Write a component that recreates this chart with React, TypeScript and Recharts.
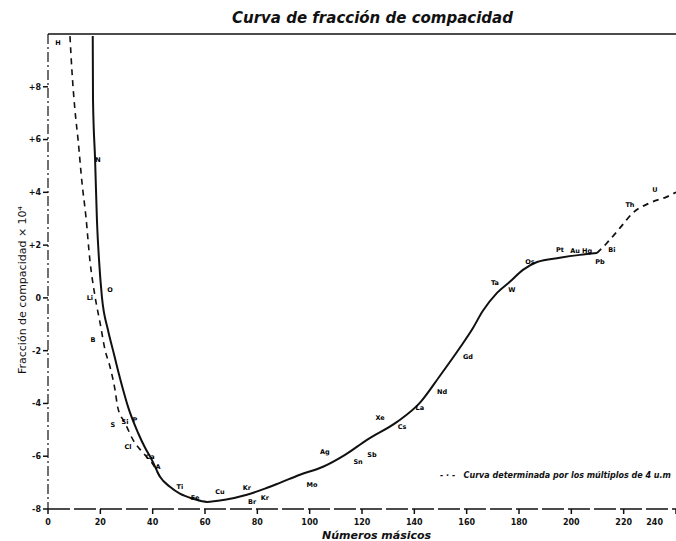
import React from "react";
import { ComposedChart, Line, Scatter, XAxis, YAxis } from "recharts";

// curva continua
const solidMass = [17.1, 17.2, 18.0, 18.7, 19.5, 20.6, 22.9, 24.8, 26.7, 28.7, 30.6, 34.4, 37.1, 39.7, 42.8, 46.6, 50.4, 55.4, 60.8, 67.6, 76.0, 82.9, 88.6, 96.3, 105.1, 113.5, 121.9, 133.4, 142.1, 149.8, 157.4, 162.0, 166.2, 171.6, 176.5, 181.5, 186.9, 195.6, 203.3, 209.8];
const solidValue = [9.92, 7.5, 5.23, 2.95, 1.44, 0.04, -1.21, -1.97, -2.73, -3.48, -4.13, -5.11, -5.68, -6.14, -6.78, -7.16, -7.42, -7.61, -7.73, -7.65, -7.46, -7.23, -7.01, -6.7, -6.4, -5.95, -5.38, -4.7, -3.98, -2.95, -1.89, -1.21, -0.49, 0.19, 0.61, 1.06, 1.36, 1.52, 1.63, 1.7];

// curva de trazos (multiplos de 4)
const dashMass = [8.4, 9.2, 10.3, 11.5, 13.0, 14.5, 16.0, 18.0, 19.9, 21.8, 23.7, 25.6, 26.7, 29.4, 32.5, 35.9, 39.7, 42.8];
const dashValue = [9.92, 8.52, 7.12, 5.98, 4.36, 3.07, 1.44, 0.04, -0.95, -1.97, -2.61, -3.48, -4.17, -4.73, -5.38, -5.83, -6.25, -6.78];

const tailMass = [209.8, 213.6, 218.6, 223.5, 230.0, 236.5, 240];
const tailValue = [1.7, 2.08, 2.65, 3.22, 3.6, 3.83, 4.0];

// rotulos de elementos
const elemNames = ["H", "N", "O", "Li", "B", "S", "Si", "P", "Cl", "Ca", "A", "Ti", "Fe", "Cu", "Kr", "Br", "Kr", "Mo", "Ag", "Sn", "Sb", "Xe", "Cs", "La", "Nd", "Gd", "Ta", "W", "Os", "Pt", "Au", "Hg", "Pb", "Bi", "Th", "U"];
const elemMass = [3.8, 19.1, 23.7, 16.0, 17.2, 24.8, 29.4, 33.2, 30.6, 39.0, 42.0, 50.4, 56.2, 65.7, 76.0, 78.0, 82.9, 100.9, 105.8, 118.5, 123.8, 126.9, 135.3, 142.1, 150.6, 160.5, 170.8, 177.3, 184.2, 195.6, 201.4, 206.0, 210.9, 215.5, 222.4, 231.9];
const elemValue = [9.66, 5.23, 0.3, 0.0, -1.59, -4.81, -4.73, -4.62, -5.64, -6.02, -6.4, -7.16, -7.61, -7.35, -7.2, -7.73, -7.58, -7.08, -5.83, -6.21, -5.95, -4.55, -4.89, -4.17, -3.56, -2.23, 0.57, 0.3, 1.36, 1.82, 1.78, 1.78, 1.36, 1.82, 3.52, 4.09];

const xTicks = [0, 20, 40, 60, 80, 100, 120, 140, 160, 180, 200, 220, 240];
const topTicks = [24, 44, 64, 84, 104, 124, 144, 164, 184, 204, 224];
const yTicks = [-8, -6, -4, -2, 0, 2, 4, 6, 8];

const solidData = solidMass.map((m, i) => ({ m, v: solidValue[i] }));
const dashData = dashMass.map((m, i) => ({ m, v: dashValue[i] }));
const tailData = tailMass.map((m, i) => ({ m, v: tailValue[i] }));
const elemData = elemMass.map((m, i) => ({ m, v: elemValue[i], name: elemNames[i] }));

const ink = "#111";
const font = "'DejaVu Sans', sans-serif";

const ElemLabel = (props: any) => {
  const { cx, cy, payload } = props;
  return (
    <text x={cx} y={cy} textAnchor="middle" dominantBaseline="middle" fontSize={6.5} fontWeight="bold" fill="#000" stroke="none" fontFamily={font}>
      {payload.name}
    </text>
  );
};

// la ultima marca (240) queda en el borde: se alinea a la derecha
const BottomTick = (props: any) => {
  const { x, y, payload } = props;
  const last = payload.value === 240;
  return (
    <text x={last ? x - 1 : x} y={y + 9} textAnchor={last ? "end" : "middle"} fontSize={8} fontWeight="bold" fill={ink} fontFamily={font}>
      {payload.value}
    </text>
  );
};

export default function App() {
  return (
    <div style={{ position: "relative", width: 676, height: 541, background: "#fff", fontFamily: font, overflow: "hidden" }}>
      <style>{"body{margin:0}"}</style>
      <ComposedChart width={676} height={541} margin={{ top: 33, right: 0, bottom: 10, left: 0 }}>
        <XAxis
          xAxisId="bottom"
          dataKey="m"
          type="number"
          domain={[0, 240]}
          ticks={xTicks}
          height={22}
          allowDataOverflow
          axisLine={{ stroke: ink, strokeWidth: 1.5, strokeDasharray: "22 4" }}
          tickLine={{ stroke: ink, strokeWidth: 1.5 }}
          tickSize={5}
          tick={BottomTick}
        />
        <XAxis
          xAxisId="top"
          orientation="top"
          dataKey="m"
          type="number"
          domain={[0, 240]}
          ticks={topTicks}
          height={1}
          axisLine={{ stroke: ink, strokeWidth: 1.5 }}
          tickLine={{ stroke: ink, strokeWidth: 1.2 }}
          tickSize={5}
          tickFormatter={() => ""}
        />
        <YAxis
          type="number"
          domain={[-8, 10]}
          ticks={yTicks}
          width={48}
          allowDataOverflow
          axisLine={{ stroke: ink, strokeWidth: 1.2, strokeDasharray: "10 3 2 3" }}
          tickLine={{ stroke: ink, strokeWidth: 1.5 }}
          tickSize={5}
          tick={{ fill: ink, fontSize: 8, fontWeight: "bold" }}
          tickFormatter={(v: number) => (v > 0 ? `+${v}` : `${v}`)}
        />
        <Line xAxisId="bottom" data={dashData} dataKey="v" type="monotone" stroke={ink} strokeWidth={1.6} strokeDasharray="6 5" dot={false} isAnimationActive={false} />
        <Line xAxisId="bottom" data={solidData} dataKey="v" type="monotone" stroke={ink} strokeWidth={2} dot={false} isAnimationActive={false} />
        <Line xAxisId="bottom" data={tailData} dataKey="v" type="monotone" stroke={ink} strokeWidth={1.8} strokeDasharray="6 5" dot={false} isAnimationActive={false} />
        <Scatter xAxisId="bottom" data={elemData} dataKey="v" shape={ElemLabel} isAnimationActive={false} />
      </ComposedChart>

      <div style={{ position: "absolute", left: 232, top: 9, fontSize: 15, fontWeight: "bold", fontStyle: "italic", color: ink }}>
        Curva de fracción de compacidad
      </div>
      <div
        style={{
          position: "absolute",
          left: 22,
          top: 290,
          transform: "translate(-50%, -50%) rotate(-90deg)",
          whiteSpace: "nowrap",
          fontSize: 11,
          color: ink,
        }}
      >
        Fracción de compacidad × 10⁴
      </div>
      <div style={{ position: "absolute", left: 322, top: 529, fontSize: 11, fontWeight: "bold", fontStyle: "italic", color: ink }}>
        Números másicos
      </div>
      <div style={{ position: "absolute", left: 440, top: 471, fontSize: 8, fontWeight: "bold", fontStyle: "italic", color: ink, whiteSpace: "nowrap" }}>
        - · -&nbsp;&nbsp;&nbsp;Curva determinada por los múltiplos de 4 u.m
      </div>
    </div>
  );
}
